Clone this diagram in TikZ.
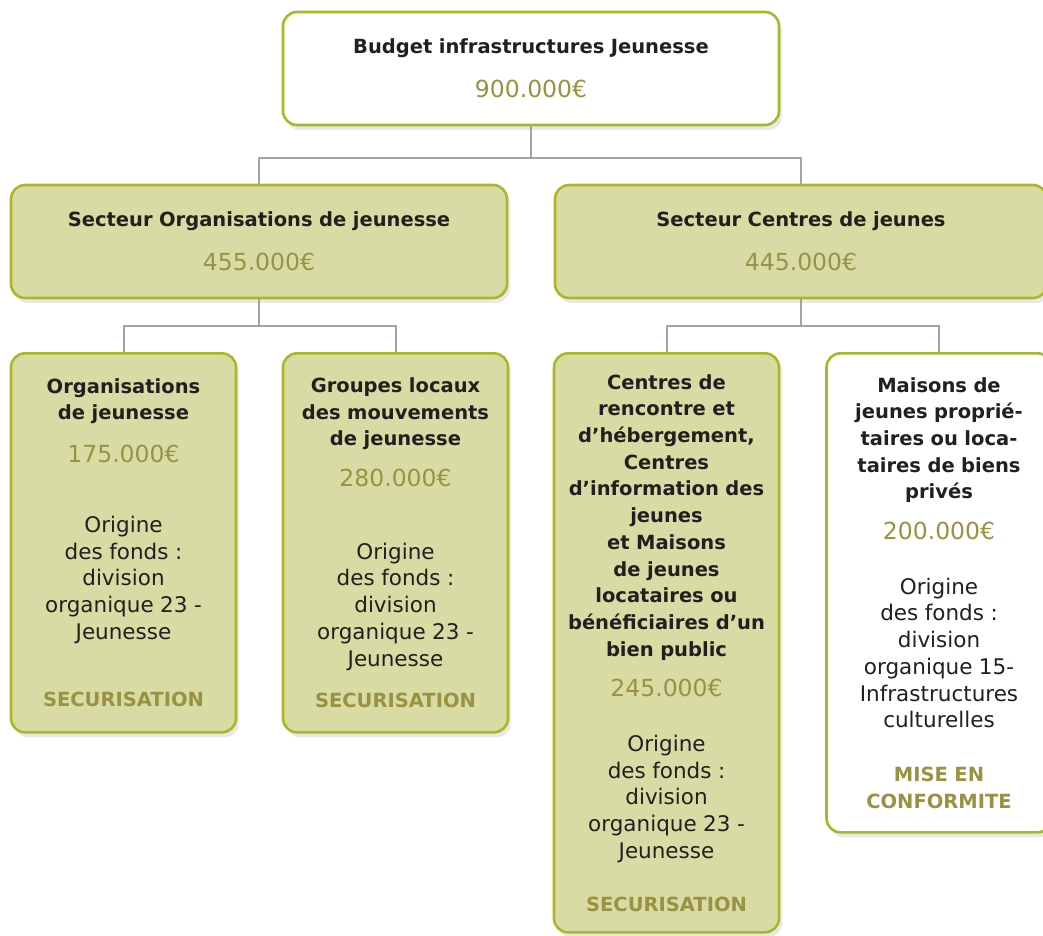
\documentclass[tikz,border=0pt]{standalone}
\usepackage{fontspec}
\setmainfont{DejaVu Sans}
\usetikzlibrary{positioning,shadows,backgrounds}
\definecolor{boxline}{HTML}{A9B826}
\definecolor{boxfill}{HTML}{D8DCA4}
\definecolor{amount}{HTML}{9A9243}
\definecolor{ink}{HTML}{231F20}
\definecolor{linkgray}{HTML}{A3A3A6}
\newcommand{\ttl}{\fontsize{19.5}{26.7}\selectfont\bfseries}
\newcommand{\amt}[1]{{\fontsize{23.5}{26.7}\selectfont\mdseries\color{amount}#1}}
\newcommand{\txt}{\fontsize{21.5}{26.7}\selectfont\mdseries}
\newcommand{\status}[1]{{\fontsize{19.5}{26.7}\selectfont\bfseries\color{amount}#1}}
\tikzset{
  budgetbox/.style={draw=boxline, line width=2.6pt, rounded corners=14pt,
    align=center, text=ink, inner sep=0pt, font=\ttl,
    drop shadow={shadow xshift=3pt, shadow yshift=-5pt, opacity=0.18}},
  whitebox/.style={budgetbox, fill=white},
  greenbox/.style={budgetbox, fill=boxfill},
  widebox/.style={minimum width=496pt, minimum height=113pt, text width=470pt},
  narrowbox/.style={minimum width=225pt, text width=215pt, anchor=north},
  link/.style={draw=linkgray, line width=2pt}
}

\begin{document}
\begin{tikzpicture}[x=1pt, y=-1pt]
  \useasboundingbox (0,0) rectangle (1043,935);
  \clip (0,0) rectangle (1043,935);

  % budget total
  \node[whitebox, widebox] (top) at (531,68.5)
    {Budget infrastructures Jeunesse\\[17pt]\amt{900.000€}};

  % secteurs
  \node[greenbox, widebox] (sl) at (259,241.5)
    {Secteur Organisations de jeunesse\\[17pt]\amt{455.000€}};
  \node[greenbox, widebox, minimum width=492pt] (sr) at (801,241.5)
    {Secteur Centres de jeunes\\[17pt]\amt{445.000€}};

  % organisations de jeunesse
  \node[greenbox, narrowbox, minimum height=379pt] (org) at (123.5,352)
    {Organisations\\de jeunesse\\[16pt]\amt{175.000€}\\[43pt]
     \txt Origine\\des fonds :\\division\\organique 23 -\\Jeunesse\\[41pt]
     \status{SECURISATION}};
  \node[greenbox, narrowbox, minimum height=379pt] (grp) at (395.5,352)
    {Groupes locaux\\des mouvements\\de jeunesse\\[14pt]\amt{280.000€}\\[46pt]
     \txt Origine\\des fonds :\\division\\organique 23 -\\Jeunesse\\[15pt]
     \status{SECURISATION}};

  % centres de jeunes
  \node[greenbox, narrowbox, minimum height=579pt] (crh) at (666.5,352)
    {Centres de\\rencontre et\\d’hébergement,\\Centres\\d’information des\\jeunes\\
     et Maisons\\de jeunes\\locataires ou\\bénéficiaires d’un\\bien public\\[14pt]
     \amt{245.000€}\\[28pt]
     \txt Origine\\des fonds :\\division\\organique 23 -\\Jeunesse\\[26pt]
     \status{SECURISATION}};
  \node[whitebox, narrowbox, minimum height=479pt] (mjp) at (939,352)
    {Maisons de\\jeunes proprié-\\taires ou loca-\\taires de biens\\privés\\[14pt]
     \amt{200.000€}\\[28pt]
     \txt Origine\\des fonds :\\division\\organique 15-\\Infrastructures\\culturelles\\[27pt]
     \status{MISE EN}\\\status{CONFORMITE}};

  \begin{scope}[on background layer]
    \draw[link] (top.south) -- ++(0,32) coordinate (tj);
    \draw[link] (tj) -| (sl.north);
    \draw[link] (tj) -| (sr.north);
    \draw[link] (sl.south) -- ++(0,27) coordinate (lj);
    \draw[link] (lj) -| (org.north);
    \draw[link] (lj) -| (grp.north);
    \draw[link] (sr.south) -- ++(0,27) coordinate (rj);
    \draw[link] (rj) -| (crh.north);
    \draw[link] (rj) -| (mjp.north);
  \end{scope}
\end{tikzpicture}
\end{document}
